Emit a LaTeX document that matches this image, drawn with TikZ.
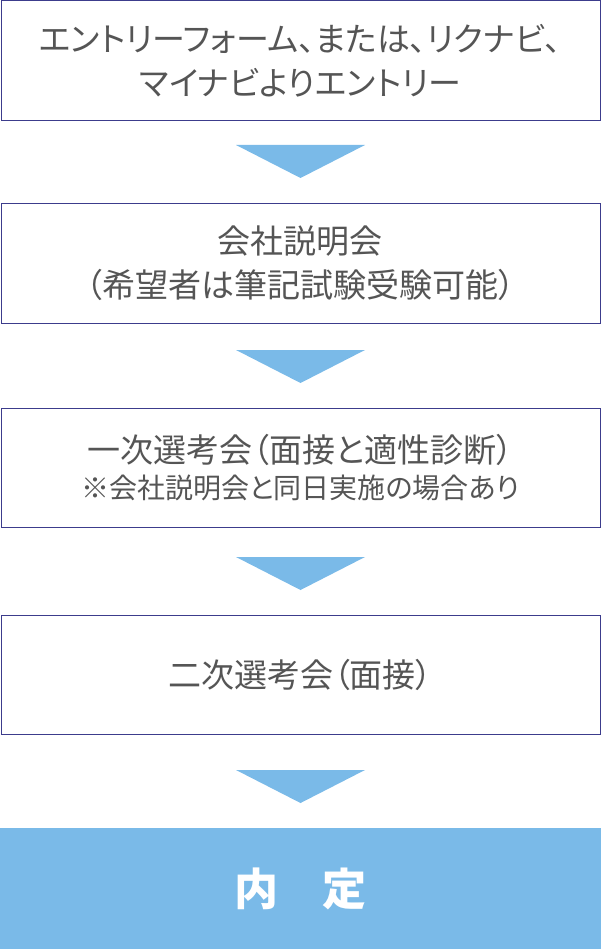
\documentclass[tikz,border=0pt]{standalone}
\usepackage{fontspec}
\newfontfamily\cjk[RawFeature=+palt]{Noto Sans CJK JP}
\definecolor{bx}{HTML}{3C3C8C}
\definecolor{tx}{HTML}{555555}
\definecolor{bl}{HTML}{7ABAE8}
\begin{document}
\begin{tikzpicture}[x=1pt,y=-1pt,
  stepbox/.style={draw=bx,line width=0.8pt,minimum width=599pt,anchor=north west,inner sep=0pt,text=tx,font=\cjk\fontsize{33}{44}\selectfont,align=center},
  tri/.style={fill=bl}]
\useasboundingbox (0,0) rectangle (601,949);
\node[stepbox,minimum height=120pt] (b1) at (0.5,0.5) {エントリーフォーム、または、リクナビ、\\マイナビよりエントリー};
\node[stepbox,minimum height=120pt] (b2) at (0.5,203) {会社説明会\\（希望者は筆記試験受験可能）};
\node[stepbox,minimum height=119pt] (b3) at (0.5,408) {一次選考会（面接と適性診断）\\[-8pt]{\fontsize{28}{34}\selectfont ※会社説明会と同日実施の場合あり}};
\node[stepbox,minimum height=119pt] (b4) at (0.5,615) {二次選考会（面接）};
\node[stepbox,draw=none,fill=bl,minimum height=121pt,minimum width=601pt,text=white,font=\cjk\bfseries\fontsize{44}{46}\selectfont] (b5) at (0,828) {内\hspace{1em}定};
\foreach \y in {145,350,557,770}{\fill[tri] (236,\y) -- (365,\y) -- (300.5,\y+33) -- cycle;}
\end{tikzpicture}
\end{document}
